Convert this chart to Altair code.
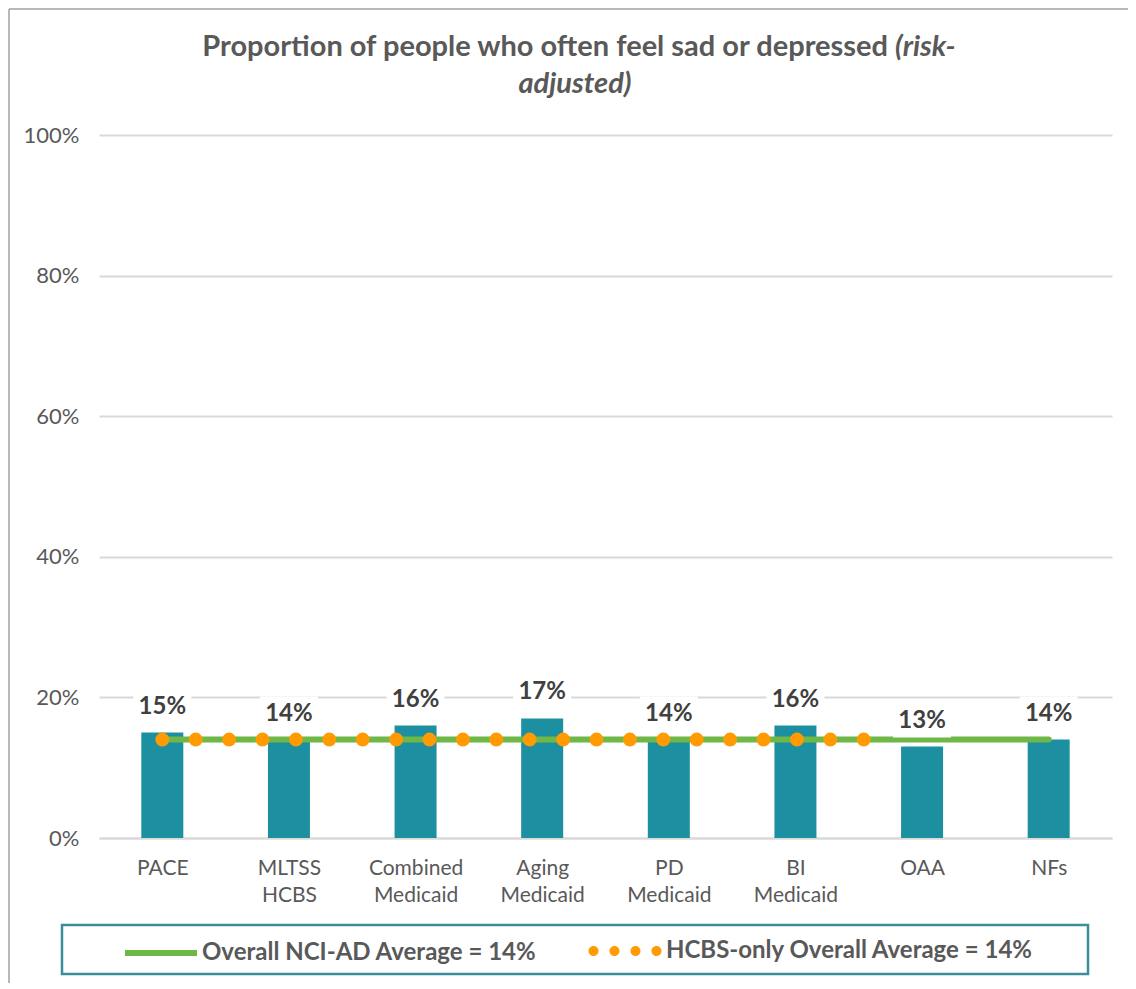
import json
import altair as alt
import pandas as pd

# ---------------- data ----------------
categories = ["PACE", "MLTSS HCBS", "Combined Medicaid", "Aging Medicaid",
              "PD Medicaid", "BI Medicaid", "OAA", "NFs"]
values = [15, 14, 16, 17, 14, 16, 13, 14]
positions = list(range(len(categories)))

overall_name = "Overall NCI-AD Average = 14%"
overall_x = [0, 7]
overall_y = [14, 14]

hcbs_name = "HCBS-only Overall Average = 14%"
hcbs_x = [0, 5.78]
hcbs_y = [14, 14]

y_ticks = [0, 20, 40, 60, 80, 100]

title_main = "Proportion of people who often feel sad or depressed"
title_ital1 = "(risk-"
title_ital2 = "adjusted)"

# ---------------- styling ----------------
FONT = "Lato"
GRAY = "#595959"
DARK = "#404040"
TEAL = "#1C8FA1"
GREEN = "#6FB847"
ORANGE = "#FF9A00"
BOX = "#3A8E9C"
GRID = "#D9D9D9"

W, H = 1013, 703

bars_df = pd.DataFrame({
    "pos": positions,
    "cat": categories,
    "value": values,
    "label": [f"{v}%" for v in values],
})
overall_df = pd.DataFrame({"x": overall_x, "y": overall_y, "series": [overall_name] * 2})
hcbs_df = pd.DataFrame({"x": hcbs_x, "y": hcbs_y, "series": [hcbs_name] * 2})

xscale = alt.Scale(domain=[-0.5, 7.5], nice=False, zero=False, padding=0)
yscale = alt.Scale(domain=[0, 100], nice=False, padding=0)

label_expr = "split(" + json.dumps(categories) + "[datum.value], ' ')"

x_enc = alt.X("pos:Q", scale=xscale, title=None,
              axis=alt.Axis(values=positions, labelExpr=label_expr, grid=False,
                            ticks=False, domain=True, domainColor=GRID, domainWidth=2,
                            labelFont=FONT, labelFontSize=21, labelColor=GRAY,
                            labelPadding=19, labelLineHeight=27, labelBaseline="top"))
y_enc = alt.Y("value:Q", scale=yscale, title=None,
              axis=alt.Axis(values=y_ticks, labelExpr="datum.value + '%'", grid=True,
                            gridColor=GRID, gridWidth=2, ticks=False, domain=False,
                            labelFont=FONT, labelFontSize=22, labelColor=GRAY,
                            labelPadding=20))

bars = alt.Chart(bars_df).mark_bar(size=42, color=TEAL).encode(x=x_enc, y=y_enc)

legend_common = dict(orient="none", title=None, padding=0, labelFont=FONT, labelFontSize=24,
                     labelFontWeight="bold", labelColor=GRAY, labelLimit=700)

green = alt.Chart(overall_df).mark_line(strokeWidth=6, strokeCap="round").encode(
    x=alt.X("x:Q", scale=xscale),
    y=alt.Y("y:Q", scale=yscale),
    color=alt.Color("series:N", scale=alt.Scale(domain=[overall_name], range=[GREEN]),
                    legend=alt.Legend(legendX=23, legendY=779, symbolType="stroke",
                                      symbolSize=72 * 72, symbolStrokeWidth=6,
                                      labelOffset=2, **legend_common)),
)


def dot(cx, r=0.135):
    return f"M{cx - r:.3f},0 a{r},{r} 0 1,0 {2 * r:.3f},0 a{r},{r} 0 1,0 {-2 * r:.3f},0 Z "


dots_path = "".join(dot(c) for c in [-0.851, -0.284, 0.284, 0.851])

orange = alt.Chart(hcbs_df).mark_line(stroke=ORANGE, strokeWidth=14, strokeCap="round",
                                      strokeDash=[0.001, 33.4]).encode(
    x=alt.X("x:Q", scale=xscale),
    y=alt.Y("y:Q", scale=yscale),
    fill=alt.Fill("series:N", scale=alt.Scale(domain=[hcbs_name], range=[ORANGE]),
                  legend=alt.Legend(legendX=489, legendY=779, symbolType=dots_path,
                                    symbolSize=74 * 74, symbolStrokeWidth=0,
                                    labelOffset=4, **legend_common)),
)

box_path = "M-1,-1.483L1,-1.483L1,-0.31L-1,-0.31Z"
label_boxes = alt.Chart(bars_df).mark_point(shape=box_path, size=58 * 58, filled=True,
                                            color="white", opacity=1, strokeWidth=0).encode(
    x=alt.X("pos:Q", scale=xscale), y=alt.Y("value:Q", scale=yscale))

labels = alt.Chart(bars_df).mark_text(dy=-26, baseline="middle", font=FONT, fontSize=24,
                                      fontWeight="bold", color=DARK).encode(
    x=alt.X("pos:Q", scale=xscale), y=alt.Y("value:Q", scale=yscale), text="label:N")

one = alt.Data(values=[{"k": 1}])
title_style = dict(baseline="middle", font=FONT, fontSize=29, fontWeight="bold", color=GRAY)
t1 = alt.Chart(one).mark_text(align="right", **title_style).encode(
    x=alt.value(789), y=alt.value(-88), text=alt.value(title_main))
t2 = alt.Chart(one).mark_text(align="left", fontStyle="italic", **title_style).encode(
    x=alt.value(796), y=alt.value(-88), text=alt.value(title_ital1))
t3 = alt.Chart(one).mark_text(align="center", fontStyle="italic", **title_style).encode(
    x=alt.value(476), y=alt.value(-51), text=alt.value(title_ital2))

legend_box = alt.Chart(one).mark_rect(fill="white", stroke=BOX, strokeWidth=2.5).encode(
    x=alt.value(-37), x2=alt.value(989), y=alt.value(790), y2=alt.value(839))

border_top = alt.Chart(one).mark_rule(color="#A0A0A0", strokeWidth=1.5).encode(
    x=alt.value(-90), x2=alt.value(1100), y=alt.value(-126))
border_left = alt.Chart(one).mark_rule(color="#A0A0A0", strokeWidth=1.5).encode(
    x=alt.value(-90), y=alt.value(-126), y2=alt.value(1000))

chart = alt.layer(border_top, border_left, legend_box, bars, green, orange, label_boxes,
                  labels, t1, t2, t3).properties(
    width=W, height=H,
    background="white",
    autosize=alt.AutoSizeParams(type="none"),
    padding={"left": 91, "top": 127, "right": 16, "bottom": 145},
).configure_view(strokeWidth=0, stroke="transparent")

chart.save("out.html", embed_options={"renderer": "svg", "actions": False})
